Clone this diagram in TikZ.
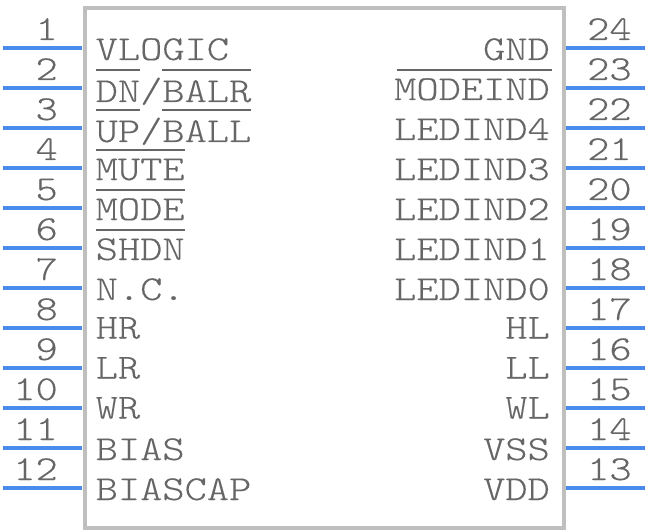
\documentclass[tikz,border=0pt]{standalone}
\usepackage{fontspec}
\newfontfamily\pinfont[FakeStretch=1.21,FakeBold=0.25]{Latin Modern Mono Light}
\definecolor{pinblue}{HTML}{4A8CEE}
\definecolor{bodygray}{HTML}{BFBFBF}
\definecolor{textgray}{HTML}{666666}
\def\barshift{0pt}
\newcommand{\pinbar}[2][29pt]{\setbox0\hbox{#2}\rlap{\hskip\barshift\raisebox{#1}{\color{textgray}\rule{\wd0}{2pt}}}\box0}
\tikzset{
    pinline/.style={pinblue, line width=4pt},
    pintext/.style={text=textgray, font=\pinfont\fontsize{35}{35}\selectfont, inner sep=0pt},
}

\begin{document}
\begin{tikzpicture}[x=1pt, y=-1pt]
            \useasboundingbox (0,0) rectangle (648,532);
            % Package outline
            \node[draw=bodygray, line width=4pt, rectangle, inner sep=0pt, minimum width=479pt, minimum height=519pt] (body) at (324,268) {};

            % Left side pins, counted downwards
            \foreach \i/\dy/\name in {1/0/VLOGIC,2/2/{\pinbar[31pt]{DN}/\pinbar[31pt]{BALR}},3/2/{\pinbar[31pt]{UP}/\pinbar[31pt]{BALL}},4/0/{\pinbar{MUTE}},5/0/{\pinbar{MODE}},6/0/{\pinbar{SHDN}},7/0/N.C.,8/-1.5/HR,9/-1.5/LR,10/-1.5/WR,11/0/BIAS,12/0/BIASCAP} {
                \coordinate (lstart\i) at (3,{8+40*\i});
                \coordinate (lend\i) at (82,{8+40*\i});
                \draw[pinline] (lstart\i) -- (lend\i);
                \node[pintext, anchor=base east] (lnum\i) at (58,{40*\i}) {\i};
                \node[pintext, anchor=base west] (lname\i) at (95.5,{20+40*\i+\dy}) {\name};
            }

            % Right side pins, counted upwards
            \def\barshift{2.5pt}
            \foreach \i/\dy/\name in {13/0/VDD,14/0/VSS,15/-1.5/WL,16/-1.5/LL,17/-1.5/HL,18/0/LEDIND0,19/0/LEDIND1,20/0/LEDIND2,21/0/LEDIND3,22/0/LEDIND4,23/0/{\pinbar{MODEIND}},24/0/GND} {
                \pgfmathtruncatemacro{\row}{25-\i}
                \coordinate (rstart\i) at (645,{8+40*\row});
                \coordinate (rend\i) at (566,{8+40*\row});
                \draw[pinline] (rstart\i) -- (rend\i);
                \node[pintext, anchor=base west] (rnum\i) at (587,{40*\row}) {\i};
                \node[pintext, anchor=base east] (rname\i) at (550,{20+40*\row+\dy}) {\name};
            }
        \end{tikzpicture}
\end{document}
